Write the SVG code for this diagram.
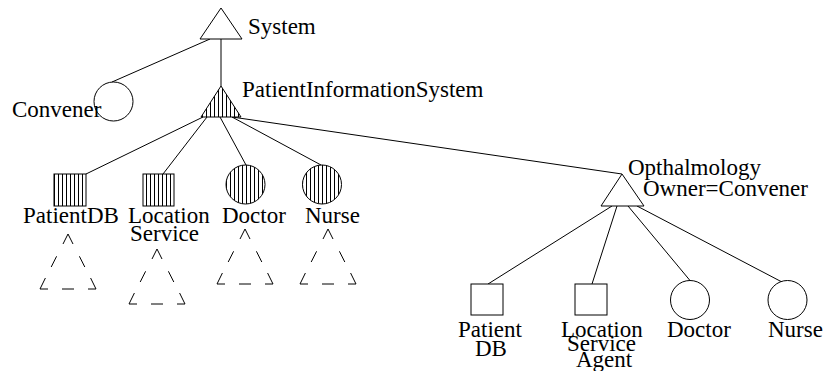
<svg xmlns="http://www.w3.org/2000/svg" width="825" height="371" viewBox="0 0 825 371" font-family="'Liberation Serif', 'DejaVu Serif', serif">
<style>
  .s { fill: white; stroke: black; stroke-width: 1; }
  .h { fill: url(#vs); stroke: black; stroke-width: 1; }
  .c { stroke: black; stroke-width: 1; fill: none; }
  .d { stroke: black; stroke-width: 1; fill: none; }
  .t { font-family: 'Liberation Serif', 'DejaVu Serif', serif; font-size: 23px; fill: black; }
</style>
<defs>
  <pattern id="vs" patternUnits="userSpaceOnUse" width="4" height="4">
    <rect width="4" height="4" fill="white"/>
    <line x1="2.5" y1="0" x2="2.5" y2="4" stroke="black" stroke-width="1"/>
  </pattern>
</defs>
<rect width="825" height="371" fill="white"/>
<g id="connectors">
  <line class="c" x1="221" y1="39" x2="221" y2="86"/>
  <line class="c" x1="210" y1="39" x2="112" y2="82"/>
  <line class="c" x1="203" y1="117" x2="86" y2="174"/>
  <line class="c" x1="207" y1="117" x2="163" y2="174"/>
  <line class="c" x1="220" y1="117" x2="246" y2="165"/>
  <line class="c" x1="232" y1="117" x2="321" y2="165"/>
  <line class="c" x1="232" y1="117" x2="622" y2="174"/>
  <line class="c" x1="612" y1="206" x2="488" y2="284"/>
  <line class="c" x1="617" y1="206" x2="592" y2="284"/>
  <line class="c" x1="628" y1="206" x2="690" y2="280.5"/>
  <line class="c" x1="637" y1="206" x2="781" y2="281.5"/>
</g>
<g id="system">
  <polygon class="s" points="221,8 200,39 242,39"/>
  <text class="t" x="248" y="34">System</text>
</g>
<g id="convener">
  <circle class="s" cx="113.5" cy="101.5" r="19.5"/>
  <text class="t" x="12" y="117">Convener</text>
</g>
<g id="patientinformationsystem">
  <polygon class="h" points="221,86 201,117 241,117"/>
  <text class="t" x="242" y="97">PatientInformationSystem</text>
</g>
<g id="patientdb">
  <rect class="h" x="54" y="174" width="32" height="32"/>
  <text class="t" x="23" y="223">PatientDB</text>
  <path class="d" d="M63,244 L68,234 L73,244 M56.6,256.3 L51.2,267 M79.4,256.3 L84.8,267 M45.4,278 L40,289 L48,289 M90.6,278 L96,289 L88,289 M62,289 L74,289"/>
</g>
<g id="locationservice">
  <rect class="h" x="143" y="174" width="31" height="32"/>
  <text class="t" x="128" y="223">Location</text>
  <text class="t" x="130" y="241">Service</text>
  <path class="d" d="M152,259 L157,249 L162,259 M145.6,271.3 L140.2,282 M168.4,271.3 L173.8,282 M134.4,293 L129,304 L137,304 M179.6,293 L185,304 L177,304 M151,304 L163,304"/>
</g>
<g id="doctor">
  <circle class="h" cx="245.5" cy="184.5" r="19.5"/>
  <text class="t" x="222" y="223">Doctor</text>
  <path class="d" d="M240,239 L245,229 L250,239 M233.6,251.3 L228.2,262 M256.4,251.3 L261.8,262 M222.4,273 L217,284 L225,284 M267.6,273 L273,284 L265,284 M239,284 L251,284"/>
</g>
<g id="nurse">
  <circle class="h" cx="322" cy="184.5" r="19.5"/>
  <text class="t" x="305" y="223">Nurse</text>
  <path class="d" d="M323,239 L328,229 L333,239 M316.6,251.3 L311.2,262 M339.4,251.3 L344.8,262 M305.4,273 L300,284 L308,284 M350.6,273 L356,284 L348,284 M322,284 L334,284"/>
</g>
<g id="opthalmology">
  <polygon class="s" points="622,174 601,206 644,206"/>
  <text class="t" x="628" y="175">Opthalmology</text>
  <text class="t" x="643" y="196">Owner=Convener</text>
</g>
<g id="patientdb2">
  <rect class="s" x="471" y="284" width="32" height="31"/>
  <text class="t" x="458" y="337">Patient</text>
  <text class="t" x="475" y="356">DB</text>
</g>
<g id="locationserviceagent">
  <rect class="s" x="575" y="284" width="32" height="31"/>
  <text class="t" x="561" y="337">Location</text>
  <text class="t" x="567" y="351">Service</text>
  <text class="t" x="576" y="367">Agent</text>
</g>
<g id="doctor2">
  <circle class="s" cx="690" cy="300" r="19.5"/>
  <text class="t" x="667" y="337">Doctor</text>
</g>
<g id="nurse2">
  <circle class="s" cx="787.5" cy="300" r="19.5"/>
  <text class="t" x="768" y="337">Nurse</text>
</g>
</svg>
